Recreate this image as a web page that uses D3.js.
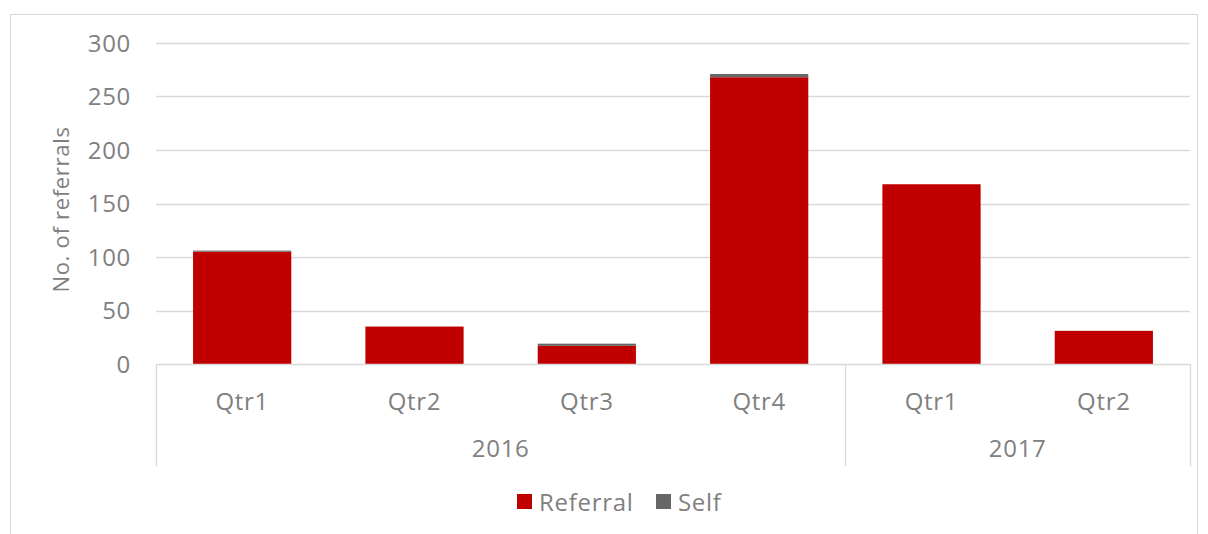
<!DOCTYPE html>
<html><head><meta charset="utf-8">
<script src="https://cdn.jsdelivr.net/npm/d3@7"></script>
<style>body{margin:0;background:#fff}svg{display:block}text{font-family:"Open Sans","Noto Sans",sans-serif;fill:#808080;letter-spacing:0.7px}</style>
</head><body><svg id="c" width="1208" height="534"></svg>
<script>
const quarters = ["Qtr1","Qtr2","Qtr3","Qtr4","Qtr1","Qtr2"];
const years = ["2016","2016","2016","2016","2017","2017"];
const referral = [105, 35, 17, 268, 168, 31];
const self = [1, 0, 2, 3, 0, 0];
const yTicks = [0,50,100,150,200,250,300];
const seriesNames = ["Referral","Self"];
const colors = ["#c00000","#666666"];

const svg = d3.select("#c");
const L = 156, R = 1190, T = 43, B = 364;
svg.append("rect").attr("x",10.5).attr("y",14.5).attr("width",1187).attr("height",530).attr("fill","none").attr("stroke","#d9d9d9");

const x = d3.scaleBand().domain(d3.range(quarters.length)).range([L,R]).paddingInner(0.43).paddingOuter(0.215);
const y = d3.scaleLinear().domain([0,300]).range([B,T]);

// grid
svg.append("g").selectAll("line").data(yTicks.filter(d=>d>0)).join("line")
  .attr("x1",L).attr("x2",R).attr("y1",d=>Math.round(y(d))+0.5).attr("y2",d=>Math.round(y(d))+0.5)
  .attr("stroke","#d9d9d9").attr("stroke-width",1.3);

// y axis labels
const yAxis = d3.axisLeft(y).tickValues(yTicks).tickSize(0).tickPadding(0);
const ga = svg.append("g").attr("transform",`translate(${L-25},0)`).call(yAxis);
ga.select(".domain").remove();
ga.selectAll("text").style("font-size","24px").attr("fill","#808080").attr("font-family","'Open Sans','Noto Sans',sans-serif").attr("dy","0.34em");

// stacks
const data = quarters.map((q,i)=>({i, Referral:referral[i], Self:self[i]}));
const stack = d3.stack().keys(seriesNames)(data);
svg.append("g").selectAll("g").data(stack).join("g").attr("fill",(d,k)=>colors[k])
  .selectAll("rect").data(d=>d).join("rect")
  .attr("x",d=>x(d.data.i)).attr("width",x.bandwidth())
  .attr("y",d=>y(d[1])).attr("height",d=>y(d[0])-y(d[1]));

// category axis
svg.append("line").attr("x1",L).attr("x2",R).attr("y1",B+0.5).attr("y2",B+0.5).attr("stroke","#d9d9d9").attr("stroke-width",1.3);
const step = x.step();
const groups = [];
years.forEach((yr,i)=>{ if(!groups.length||groups[groups.length-1].yr!==yr) groups.push({yr,start:i,end:i}); else groups[groups.length-1].end=i; });
const bounds = [L, ...groups.map(g=>L+(g.end+1)*step)];
svg.append("g").selectAll("line").data(bounds).join("line")
  .attr("x1",d=>Math.round(d)+0.5).attr("x2",d=>Math.round(d)+0.5).attr("y1",B).attr("y2",466)
  .attr("stroke","#d9d9d9").attr("stroke-width",1.3);
svg.append("g").selectAll("text").data(quarters).join("text")
  .attr("x",(d,i)=>x(i)+x.bandwidth()/2).attr("y",410).attr("text-anchor","middle")
  .style("font-size","24px").text(d=>d);
svg.append("g").selectAll("text").data(groups).join("text")
  .attr("x",g=>L+(g.start+g.end+1)*step/2).attr("y",457).attr("text-anchor","middle")
  .style("font-size","24px").text(g=>g.yr);

// y title
svg.append("text").attr("transform",`translate(69,${(T+B)/2+6}) rotate(-90)`).attr("text-anchor","middle")
  .style("font-size","22px").text("No. of referrals");

// legend
const lg = svg.append("g");
const lx = [517, 656];
seriesNames.forEach((n,k)=>{
  lg.append("rect").attr("x",lx[k]).attr("y",494).attr("width",15).attr("height",15).attr("fill",colors[k]);
  lg.append("text").attr("x",lx[k]+22).attr("y",511).style("font-size","24px").text(n);
});
</script></body></html>
